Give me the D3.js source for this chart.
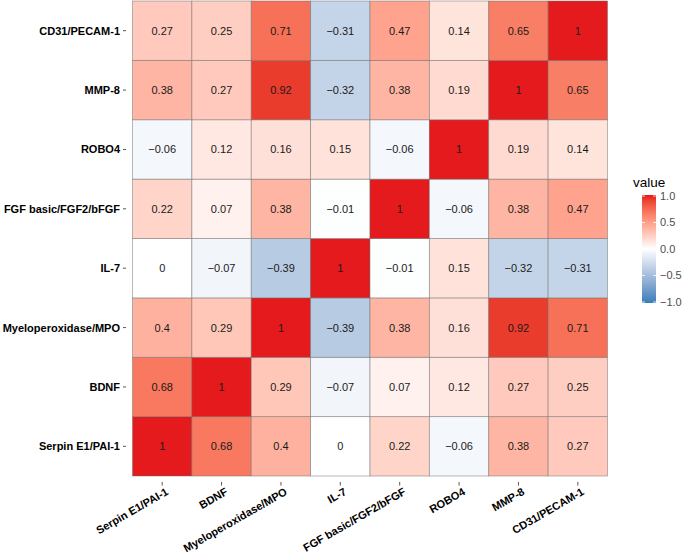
<!DOCTYPE html>
<html>
<head>
<meta charset="utf-8">
<script src="https://cdn.jsdelivr.net/npm/d3@7"></script>
<style>
  body { margin: 0; background: #fff; }
  svg { font-family: "Liberation Sans", Arial, sans-serif; }
</style>
</head>
<body>
<div id="chart"></div>
<script>
// column order (x) and row order (y, bottom to top)
const variables = ["Serpin E1/PAI-1", "BDNF", "Myeloperoxidase/MPO", "IL-7",
                   "FGF basic/FGF2/bFGF", "ROBO4", "MMP-8", "CD31/PECAM-1"];

// correlation values, one array per row, same column order as variables
const rowSerpin = [1, 0.68, 0.4, 0, 0.22, -0.06, 0.38, 0.27];
const rowBDNF   = [0.68, 1, 0.29, -0.07, 0.07, 0.12, 0.27, 0.25];
const rowMPO    = [0.4, 0.29, 1, -0.39, 0.38, 0.16, 0.92, 0.71];
const rowIL7    = [0, -0.07, -0.39, 1, -0.01, 0.15, -0.32, -0.31];
const rowFGF    = [0.22, 0.07, 0.38, -0.01, 1, -0.06, 0.38, 0.47];
const rowROBO4  = [-0.06, 0.12, 0.16, 0.15, -0.06, 1, 0.19, 0.14];
const rowMMP8   = [0.38, 0.27, 0.92, -0.32, 0.38, 0.19, 1, 0.65];
const rowCD31   = [0.27, 0.25, 0.71, -0.31, 0.47, 0.14, 0.65, 1];
const rows = [rowSerpin, rowBDNF, rowMPO, rowIL7, rowFGF, rowROBO4, rowMMP8, rowCD31];

const legendTicks = [-1, -0.5, 0, 0.5, 1];

const svgWidth = 685, svgHeight = 556;
const panel = {left: 132.5, right: 607.5, top: 1, bottom: 476};

const svg = d3.select("#chart").append("svg")
    .attr("width", svgWidth)
    .attr("height", svgHeight);

const x = d3.scaleBand().domain(variables).range([panel.left, panel.right]);
const y = d3.scaleBand().domain(variables).range([panel.bottom, panel.top]);

const lowCol = "#377EB8", midCol = "#FFFFFF", highCol = "#E41A1C";
function fill(v) {
    return v >= 0 ? d3.interpolateLab(midCol, highCol)(v)
                  : d3.interpolateLab(midCol, lowCol)(-v);
}

const cells = [];
rows.forEach((r, i) => r.forEach((v, j) => cells.push({row: variables[i], col: variables[j], value: v})));

const fmt = v => String(v).replace("-", "\u2212");

const g = svg.append("g");
g.selectAll("rect")
    .data(cells)
    .enter()
    .append("rect")
    .attr("x", d => x(d.col))
    .attr("y", d => y(d.row))
    .attr("width", x.bandwidth())
    .attr("height", y.bandwidth())
    .attr("fill", d => fill(d.value))
    .attr("stroke", "#6e6e6e")
    .attr("stroke-opacity", 0.6)
    .attr("stroke-width", 0.8);

g.selectAll("text")
    .data(cells)
    .enter()
    .append("text")
    .attr("x", d => x(d.col) + x.bandwidth() / 2)
    .attr("y", d => y(d.row) + y.bandwidth() / 2)
    .attr("dy", "0.36em")
    .attr("text-anchor", "middle")
    .style("font-size", "11px")
    .style("fill", "#1a1a1a")
    .text(d => fmt(d.value));

// y axis
const yAxis = svg.append("g");
variables.forEach(v => {
    const cy = y(v) + y.bandwidth() / 2;
    yAxis.append("line")
        .attr("x1", 123).attr("x2", 126)
        .attr("y1", cy).attr("y2", cy)
        .attr("stroke", "#444").attr("stroke-width", 0.9);
    yAxis.append("text")
        .attr("x", 120).attr("y", cy).attr("dy", "0.36em")
        .attr("text-anchor", "end")
        .style("font-size", "11px").style("font-weight", "bold")
        .style("fill", "#000")
        .text(v);
});

// x axis
const xAxis = svg.append("g");
variables.forEach(v => {
    const cx = x(v) + x.bandwidth() / 2;
    xAxis.append("line")
        .attr("x1", cx).attr("x2", cx)
        .attr("y1", 482).attr("y2", 485.5)
        .attr("stroke", "#444").attr("stroke-width", 0.9);
    xAxis.append("text")
        .attr("transform", `translate(${cx + 3}, 487) rotate(-30)`)
        .attr("dy", "0.72em")
        .attr("text-anchor", "end")
        .style("font-size", "11px").style("font-weight", "bold")
        .style("fill", "#000")
        .text(v);
});

// legend
const legend = {x: 642, w: 14, top: 196, bottom: 302};
const ly = d3.scaleLinear().domain([-1, 1]).range([legend.bottom, legend.top]);

const defs = svg.append("defs");
const grad = defs.append("linearGradient")
    .attr("id", "legendGrad")
    .attr("x1", 0).attr("x2", 0).attr("y1", 1).attr("y2", 0);
d3.range(0, 21).forEach(i => {
    const t = i / 20, v = -1 + 2 * t;
    grad.append("stop").attr("offset", t).attr("stop-color", fill(v));
});

svg.append("text")
    .attr("x", 633).attr("y", 187)
    .style("font-size", "13.5px").style("fill", "#000")
    .text("value");

svg.append("rect")
    .attr("x", legend.x).attr("y", legend.top - 1)
    .attr("width", legend.w).attr("height", legend.bottom - legend.top + 2)
    .attr("fill", "url(#legendGrad)");

legendTicks.forEach(t => {
    const ty = ly(t);
    [[legend.x, legend.x + 3], [legend.x + legend.w - 3, legend.x + legend.w]].forEach(([a, b]) => {
        svg.append("line")
            .attr("x1", a).attr("x2", b)
            .attr("y1", ty).attr("y2", ty)
            .attr("stroke", "#fff").attr("stroke-width", 0.8);
    });
    svg.append("text")
        .attr("x", 660).attr("y", ty).attr("dy", "0.36em")
        .style("font-size", "11px").style("fill", "#4d4d4d")
        .text(fmt(t.toFixed(1)));
});
</script>
</body>
</html>
